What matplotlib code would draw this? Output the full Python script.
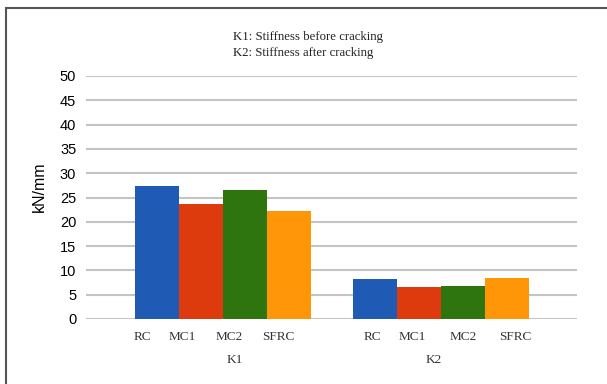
import numpy as np
from matplotlib import pyplot as plt
from matplotlib.patches import Rectangle

# stiffness groups and specimen types
groups = ["K1", "K2"]
specimens = ["RC", "MC1", "MC2", "SFRC"]
rc = [27.4, 8.2]
mc1 = [23.7, 6.6]
mc2 = [26.5, 6.8]
sfrc = [22.3, 8.4]
notes = ["K1: Stiffness before cracking", "K2: Stiffness after cracking"]

colors = ["#1f5bb5", "#dd3a0d", "#2e740f", "#ff9608"]
series = [rc, mc1, mc2, sfrc]

fig = plt.figure(figsize=(6.07, 3.84), dpi=100)
ax = fig.add_axes([86 / 607, 1 - 319 / 384, 491 / 607, 243 / 384])

xs = np.arange(len(groups))
width = 0.202
offsets = (np.arange(len(specimens)) - 1.5) * width
for vals, off, c in zip(series, offsets, colors):
    ax.bar(xs + off, vals, width, color=c, zorder=3)

ax.set_ylim(0, 50)
ax.set_yticks(range(0, 51, 5))
ax.set_xlim(-0.628, 1.624)
ax.grid(axis="y", color="#c4c4c4", lw=1.5, zorder=0)
for s in ax.spines.values():
    s.set_visible(False)
ax.tick_params(axis="y", length=0, pad=7, labelsize=10.5)
ax.tick_params(axis="x", length=0, pad=9)
for t in ax.get_yticklabels():
    t.set_fontfamily("Liberation Sans")

# labels in the source sit a bit off the bar centres
label_shift = [[-0.065, -0.085, -0.07, -0.05], [-0.01, -0.03, 0.0, 0.04]]
group_shift = [0.055, -0.035]
tick_pos = [x + off + sh for x, row in zip(xs, label_shift)
            for off, sh in zip(offsets, row)]
ax.set_xticks(tick_pos)
ax.set_xticklabels(specimens * len(groups), family="Liberation Serif",
                   fontsize=9.5, color="#333333")
for x, g, sh in zip(xs, groups, group_shift):
    ax.text(x + sh, -0.168, g, transform=ax.get_xaxis_transform(), ha="center",
            va="center", family="Liberation Serif", fontsize=9.5, color="#333333")

ax.set_ylabel("kN/mm", family="Liberation Sans", fontsize=11.5)
ax.yaxis.set_label_coords(-0.079, 0.543)

fig.text(233 / 607, 1 - 37 / 384, notes[0], family="Liberation Serif",
         fontsize=9.2, va="center", color="#222222")
fig.text(233 / 607, 1 - 53 / 384, notes[1], family="Liberation Serif",
         fontsize=9.2, va="center", color="#222222")

fig.patches.append(Rectangle((6 / 607, -0.1), 1.2, 1.1 - 8 / 384,
                             transform=fig.transFigure, fill=False,
                             edgecolor="#555555", lw=1.5))

fig.savefig("out.png", dpi=100)
